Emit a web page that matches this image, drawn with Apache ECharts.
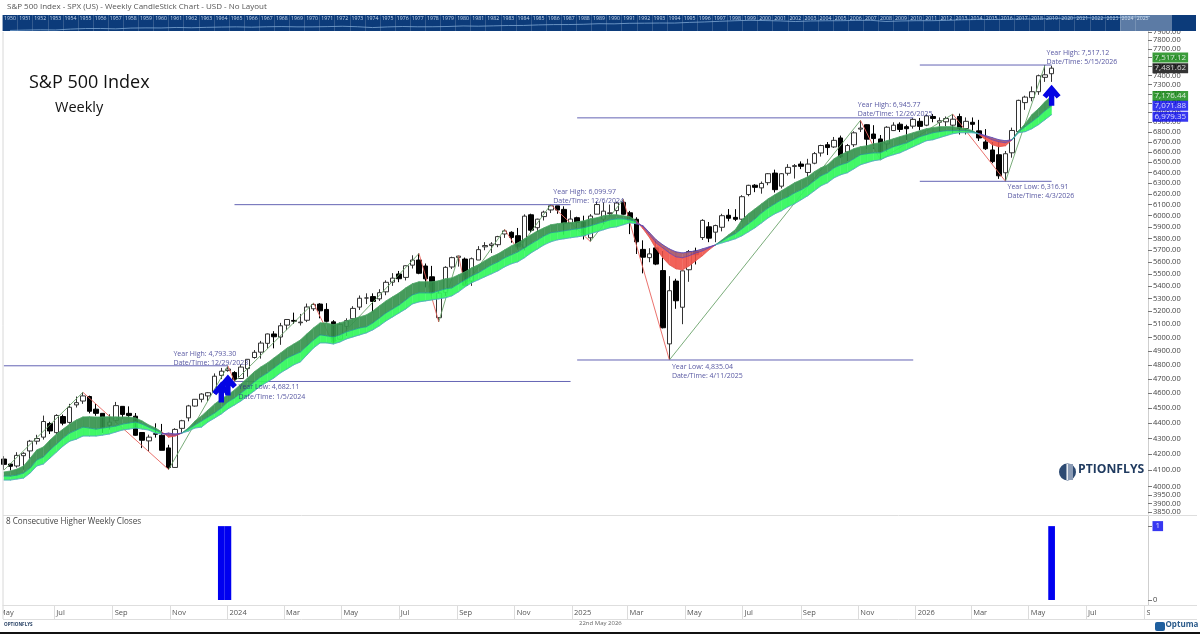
<!DOCTYPE html>
<html>
<head>
<meta charset="utf-8">
<style>html,body{margin:0;padding:0;background:#fff}#c{width:1200px;height:634px}</style>
<script src="https://cdn.jsdelivr.net/npm/echarts@6/dist/echarts.min.js"></script>
</head>
<body>
<div id="c"></div>
<script>
const weekDates = ['2023-05-05','2023-05-12','2023-05-19','2023-05-26','2023-06-02','2023-06-09','2023-06-16','2023-06-23','2023-06-30','2023-07-07','2023-07-14','2023-07-21','2023-07-28','2023-08-04','2023-08-11','2023-08-18','2023-08-25','2023-09-01','2023-09-08','2023-09-15','2023-09-22','2023-09-29','2023-10-06','2023-10-13','2023-10-20','2023-10-27','2023-11-03','2023-11-10','2023-11-17','2023-11-24','2023-12-01','2023-12-08','2023-12-15','2023-12-22','2023-12-29',
'2024-01-05','2024-01-12','2024-01-19','2024-01-26','2024-02-02','2024-02-09','2024-02-16','2024-02-23','2024-03-01','2024-03-08','2024-03-15','2024-03-22','2024-03-29','2024-04-05','2024-04-12','2024-04-19','2024-04-26','2024-05-03','2024-05-10','2024-05-17','2024-05-24','2024-05-31','2024-06-07','2024-06-14','2024-06-21','2024-06-28','2024-07-05','2024-07-12','2024-07-19','2024-07-26','2024-08-02','2024-08-09','2024-08-16','2024-08-23','2024-08-30','2024-09-06','2024-09-13','2024-09-20','2024-09-27','2024-10-04','2024-10-11','2024-10-18','2024-10-25','2024-11-01','2024-11-08','2024-11-15','2024-11-22','2024-11-29','2024-12-06','2024-12-13','2024-12-20','2024-12-27',
'2025-01-03','2025-01-10','2025-01-17','2025-01-24','2025-01-31','2025-02-07','2025-02-14','2025-02-21','2025-02-28','2025-03-07','2025-03-14','2025-03-21','2025-03-28','2025-04-04','2025-04-11','2025-04-18','2025-04-25','2025-05-02','2025-05-09','2025-05-16','2025-05-23','2025-05-30','2025-06-06','2025-06-13','2025-06-20','2025-06-27','2025-07-04','2025-07-11','2025-07-18','2025-07-25','2025-08-01','2025-08-08','2025-08-15','2025-08-22','2025-08-29','2025-09-05','2025-09-12','2025-09-19','2025-09-26','2025-10-03','2025-10-10','2025-10-17','2025-10-24','2025-10-31','2025-11-07','2025-11-14','2025-11-21','2025-11-28','2025-12-05','2025-12-12','2025-12-19','2025-12-26',
'2026-01-02','2026-01-09','2026-01-16','2026-01-23','2026-01-30','2026-02-06','2026-02-13','2026-02-20','2026-02-27','2026-03-06','2026-03-13','2026-03-20','2026-03-27','2026-04-03','2026-04-10','2026-04-17','2026-04-24','2026-05-01','2026-05-08','2026-05-15','2026-05-22'];

const weekOpen = [4169,4138,4126,4190,4220,4282,4308,4397,4337,4443,4404,4521,4547,4578,4492,4464,4385,4416,4511,4464,4445,4338,4284,4330,4320,4239,4117,4365,4434,4513,4559,4582,4610,4725,4759,
4745,4703,4773,4853,4892,4957,5027,5004,5094,5130,5112,5131,5220,5257,5215,5119,4988,5084,5143,5233,5305,5316,5298,5354,5432,5499,5471,5572,5615,5565,5476,5151,5350,5557,5637,5623,5441,5615,5727,5738,5745,5838,5853,5823,5723,6008,5893,5992,6052,6089,6057,5932,
5982,5945,5805,6014,5969,6020,6046,6121,6026,5968,5705,5635,5718,5527,4953,5441,5232,5534,5690,5807,5901,5854,5897,6004,5985,5969,6193,6280,6255,6304,6395,6271,6393,6458,6482,6401,6490,6590,6672,6650,6740,6600,6672,6830,6875,6780,6730,6680,6815,6880,6855,6860,
6910,6870,6960,6900,6905,6870,6960,6836,6900,6812,6700,6620,6573,6398,6592,6804,7106,7159,7223,7380,7420];
const weekHigh = [4187,4143,4212,4212,4290,4323,4449,4408,4458,4456,4528,4578,4607,4584,4528,4464,4458,4541,4512,4511,4466,4339,4324,4398,4394,4259,4366,4421,4521,4560,4600,4609,4739,4778,4793.30,
4755,4803,4842,4907,4975,5030,5048,5111,5138,5190,5180,5261,5265,5264,5264,5132,5114,5146,5240,5325,5342,5342,5375,5447,5506,5524,5570,5655,5670,5586,5566,5360,5563,5643,5651,5636,5636,5733,5767,5767,5822,5878,5862,5891,6012,6018,5973,6045,6099.97,6089,6085,6049,
5991,6000,6014,6128,6120,6101,6127,6147,6043,5986,5783,5715,5777,5691,5481,5460,5528,5700,5720,5969,5944,5920,6017,6060,6059,6187,6284,6290,6315,6395,6428,6395,6481,6482,6508,6533,6600,6672,6699,6750,6764,6680,6808,6920,6880,6870,6770,6860,6900,6900,6875,6945.77,
6945,6980,6985,6950,6960,6985,6990,6950,6950,6925,6830,6700,6700,6610,6845,7137,7180,7280,7410,7517.12,7510];
const weekLow = [4103,4099,4116,4103,4166,4261,4292,4328,4328,4385,4395,4503,4528,4464,4448,4335,4357,4403,4430,4440,4317,4238,4217,4305,4224,4104,4117,4329,4411,4509,4538,4547,4597,4699,4751,
4682.11,4699,4715,4845,4845,4918,4920,4946,5056,5104,5091,5117,5203,5146,5115,4953,4986,5012,5143,5211,5257,5192,5282,5327,5402,5432,5446,5544,5497,5390,5303,5119,5322,5540,5560,5402,5402,5615,5698,5674,5724,5804,5762,5702,5696,5853,5856,5957,6024,6017,5832,5932,
5869,5790,5773,6014,5923,5990,6003,6009,5837,5666,5504,5597,5572,5069,4835.04,5220,5101,5435,5578,5786,5767,5767,5861,5950,5952,5943,6177,6215,6201,6280,6212,6250,6372,6343,6433,6361,6480,6555,6570,6640,6540,6510,6650,6800,6630,6630,6521,6600,6810,6800,6720,6835,
6820,6860,6900,6800,6860,6790,6775,6775,6800,6710,6620,6490,6340,6316.91,6544,6790,7030,7120,7190,7330,7330];
const weekClose = [4136,4124,4192,4205,4282,4299,4410,4348,4450,4399,4505,4536,4582,4478,4464,4370,4406,4516,4457,4450,4320,4288,4308,4327,4224,4117,4358,4415,4514,4559,4595,4604,4719,4755,4770,
4697,4784,4840,4891,4959,5027,5006,5089,5137,5124,5117,5234,5254,5204,5123,4967,5100,5128,5223,5303,5305,5278,5347,5431,5465,5460,5567,5615,5505,5459,5346,5344,5554,5635,5648,5408,5626,5703,5738,5751,5815,5865,5808,5728,5996,5871,5969,6032,6090,6051,5931,5970,
5942,5827,5997,6101,6041,6026,6115,6013,5955,5770,5639,5667,5581,5074,5363,5283,5525,5687,5660,5958,5802,5912,6000,5977,5968,6173,6279,6260,6297,6389,6238,6389,6450,6467,6460,6482,6584,6664,6644,6716,6553,6664,6792,6840,6728,6734,6603,6849,6870,6827,6834,6930,
6858,6966,6940,6916,6939,6932,6836,6910,6879,6740,6632,6506,6369,6583,6816,7130,7165,7223,7398,7408,7481.62];

const emaFast = [4089,4095,4107,4126,4175,4226,4245,4289,4328,4360,4393,4420,4440,4441,4439,4440,4441,4440,4439,4440,4433,4413,4387,4367,4341,4308,4315,4334,4367,4413,4447,4487,4527,4561,4589,4623,4665,4707,4750,4785,4814,4850,4886,4923,4952,4982,5028,5073,5111,5111,5096,5111,5126,5142,5157,5172,5203,5243,5282,5314,5346,5386,5419,5435,5435,5435,5443,5459,5467,5492,5517,5550,5575,5609,5642,5667,5701,5735,5761,5796,5831,5866,5893,5919,5928,5936,5936,5945,5954,5972,5981,5999,6008,6008,5999,5990,5954,5884,5805,5709,5634,5575,5542,5533,5566,5609,5651,5701,5744,5787,5831,5875,5963,6017,6062,6108,6154,6191,6228,6265,6303,6331,6360,6408,6446,6475,6534,6573,6602,6632,6652,6662,6682,6692,6712,6732,6753,6773,6793,6814,6834,6845,6855,6855,6855,6845,6834,6814,6773,6722,6672,6652,6662,6722,6814,6886,6979,7041,7116,7176.44];
const emaMid = [4064,4064,4070,4083,4113,4163,4182,4226,4263,4302,4334,4354,4373,4367,4360,4367,4373,4380,4393,4400,4407,4393,4373,4354,4334,4321,4321,4334,4360,4387,4413,4440,4467,4500,4541,4568,4602,4637,4679,4714,4743,4778,4814,4850,4872,4893,4938,4982,5020,5013,5005,5020,5043,5058,5073,5081,5111,5149,5188,5219,5250,5290,5330,5346,5346,5346,5362,5378,5386,5419,5451,5484,5509,5542,5575,5600,5634,5659,5684,5718,5753,5787,5822,5849,5857,5866,5875,5884,5893,5910,5928,5945,5963,5972,5972,5963,5945,5901,5831,5761,5718,5675,5642,5634,5651,5675,5692,5718,5744,5778,5813,5840,5884,5928,5972,6026,6071,6108,6145,6172,6209,6237,6274,6322,6369,6398,6446,6475,6495,6534,6573,6583,6592,6592,6622,6652,6672,6692,6722,6753,6773,6793,6804,6814,6814,6814,6814,6804,6783,6753,6722,6702,6692,6722,6804,6855,6906,6958,7021,7071.88];
const emaSlow = [4040,4040,4046,4052,4083,4126,4138,4175,4213,4251,4282,4295,4315,4315,4315,4321,4328,4341,4354,4360,4367,4360,4354,4334,4328,4334,4328,4334,4347,4367,4373,4407,4433,4460,4494,4520,4548,4582,4616,4651,4679,4707,4743,4771,4800,4821,4872,4923,4960,4960,4952,4967,4990,5005,5020,5035,5058,5089,5126,5157,5188,5219,5258,5274,5282,5290,5298,5306,5322,5354,5394,5427,5451,5476,5500,5525,5558,5583,5600,5634,5675,5709,5744,5770,5787,5796,5805,5813,5822,5840,5857,5875,5893,5901,5919,5936,5928,5910,5849,5787,5744,5709,5684,5675,5684,5692,5709,5726,5744,5761,5778,5796,5822,5857,5893,5936,5981,6017,6044,6080,6108,6145,6182,6228,6274,6303,6350,6379,6398,6436,6475,6495,6514,6524,6553,6573,6592,6622,6652,6682,6712,6722,6743,6763,6783,6793,6793,6793,6783,6763,6743,6722,6712,6722,6793,6804,6834,6875,6927,6979.35];

const pivotWeek = [0,12,25,34,35,47,50,63,66,69,70,76,78,83,89,94,101,130,133,144,152,158];
const pivotPrice = [4100,4607,4104,4793,4682,5265,4953,5670,5119,5651,5402,5878,5702,6100,5773,6147,4835,6920,6521,6985,6317,7517];

const extremeNames = ['Year High','Year Low','Year High','Year Low','Year High','Year Low','Year High'];
const extremePrices = [4793.30,4682.11,6099.97,4835.04,6945.77,6316.91,7517.12];
const extremeDates = ['12/29/2023','1/5/2024','12/6/2024','4/11/2025','12/26/2025','4/3/2026','5/15/2026'];
const extremeWeeks = ['2023-12-29','2024-01-05','2024-12-06','2025-04-11','2025-12-26','2026-04-03','2026-05-15'];
const extremeFrom = ['2023-05-05','2024-01-05','2024-01-05','2025-01-03','2025-01-03','2026-01-02','2026-01-02'];
const extremeTo = ['2023-12-29','2024-12-27','2024-12-27','2025-12-26','2025-12-26','2026-05-22','2026-05-22'];
const extremeOffsetX = [-55,3.5,2,2,-56,1.5,1];
const extremeOffsetY = [-7.5,10.5,-8,11.5,-8.5,10.5,-7.5];

const signalWeeks = ['2023-12-22','2023-12-29','2026-05-22'];
const signalValues = [1,1,1];
const arrowPrices = [4609,4657,7186];

const priceTicks = [3850,3900,3950,4000,4100,4200,4300,4400,4500,4600,4700,4800,4900,5000,5100,5200,5300,5400,5500,5600,5700,5800,5900,6000,6100,6200,6300,6400,6500,6600,6700,6800,6900,7000,7100,7200,7300,7400,7500,7600,7700,7800,7900];
const tagValues = [7517.12,7481.62,7176.44,7071.88,6979.35];
const tagColours = ['#0a840a','#000000','#0a840a','#0505ee','#0505ee'];
const tagOffsets = [-7.5,0,0,0,2];

const monthDates = ['2023-07-01','2023-09-01','2023-11-01','2024-01-01','2024-03-01','2024-05-01','2024-07-01','2024-09-01','2024-11-01','2025-01-01','2025-03-01','2025-05-01','2025-07-01','2025-09-01','2025-11-01','2026-01-01','2026-03-01','2026-05-01','2026-07-01','2026-09-01'];
const monthLabels = ['Jul','Sep','Nov','2024','Mar','May','Jul','Sep','Nov','2025','Mar','May','Jul','Sep','Nov','2026','Mar','May','Jul','Sep'];

const stripYears = ['1950','1951','1952','1953','1954','1955','1956','1957','1958','1959','1960','1961','1962','1963','1964','1965','1966','1967','1968','1969','1970','1971','1972','1973','1974','1975','1976','1977','1978','1979','1980','1981','1982','1983','1984','1985','1986','1987','1988','1989','1990','1991','1992','1993','1994','1995','1996','1997','1998','1999','2000','2001','2002','2003','2004','2005','2006','2007','2008','2009','2010','2011','2012','2013','2014','2015','2016','2017','2018','2019','2020','2021','2022','2023','2024','2025','2026','',''];
const stripCloses = [20.41,23.77,26.57,24.81,35.98,45.48,46.67,39.99,55.21,59.89,58.11,71.55,63.10,75.02,84.75,92.43,80.33,96.47,103.86,92.06,92.15,102.09,118.05,97.55,68.56,90.19,107.46,95.10,96.11,107.94,135.76,122.55,140.64,164.93,167.24,211.28,242.17,247.08,277.72,353.40,330.22,417.09,435.71,466.45,459.27,615.93,740.74,970.43,1229.23,1469.25,1320.28,1148.08,879.82,1111.92,1211.92,1248.29,1418.30,1468.36,903.25,1115.10,1257.64,1257.60,1426.19,1848.36,2058.90,2043.94,2238.83,2673.61,2506.85,3230.78,3756.07,4766.18,3839.50,4769.83,5881.63,6845.50,7481.62];

[weekOpen,weekHigh,weekLow,weekClose,emaFast,emaMid,emaSlow].forEach((a,k)=>{
  if(a.length!==weekDates.length) throw new Error('array '+k+' has '+a.length+' vs '+weekDates.length);
});

const DAY = 864e5;
const FONT = '"Open Sans"';
const origin = Date.UTC(2024,0,1);
const axisMin = origin - 238.5*DAY;
const axisMax = origin + 977.8*DAY;
const barTime = d => Date.parse(d+'T00:00:00Z') + 3.4*DAY;
const dayTime = d => Date.parse(d+'T00:00:00Z');
const weekTimes = weekDates.map(barTime);
const monthTimes = monthDates.map(dayTime);
const fmt = v => v.toLocaleString('en-US',{minimumFractionDigits:2,maximumFractionDigits:2});

const upLeg = [], downLeg = [];
for(let k=0;k<pivotWeek.length-1;k++){
  const target = pivotPrice[k+1]>pivotPrice[k] ? upLeg : downLeg;
  target.push([weekTimes[pivotWeek[k]],pivotPrice[k]],[weekTimes[pivotWeek[k+1]],pivotPrice[k+1]],[weekTimes[pivotWeek[k+1]],'-']);
}

function renderBand(params,api){
  const i = params.dataIndex;
  if(i>=weekTimes.length-1) return null;
  const c = (k,a)=>api.coord([weekTimes[k],a[k]]);
  const F0=c(i,emaFast),F1=c(i+1,emaFast),M0=c(i,emaMid),M1=c(i+1,emaMid),S0=c(i,emaSlow),S1=c(i+1,emaSlow);
  const up = emaFast[i]+emaFast[i+1] >= emaMid[i]+emaMid[i+1];
  const poly = (pts,fill)=>({type:'polygon',shape:{points:pts},style:{fill:fill,opacity:0.93,stroke:fill,lineWidth:0.3}});
  const line = (a,b,col,w)=>({type:'line',shape:{x1:a[0],y1:a[1],x2:b[0],y2:b[1]},style:{stroke:col,lineWidth:w,lineCap:'round'}});
  return {type:'group',children:[
    poly([F0,F1,M1,M0], up?'#38934f':'#f0564e'),
    poly([M0,M1,S1,S0], up?'#33f85c':'#a8586a'),
    line(F0,F1, up?'#4aa664':'#e0504a',0.7),
    line(M0,M1, up?'#2a8a98':'#7040b0',0.8),
    line(S0,S1, up?'#559fca':'#5048c0',0.8)
  ]};
}

const spanSeries = extremePrices.map((p,k)=>({
  type:'line',xAxisIndex:0,yAxisIndex:0,symbol:'none',silent:true,z:3,clip:false,
  lineStyle:{color:'#6464b4',width:1},
  data:[[barTime(extremeFrom[k]),p],[barTime(extremeTo[k]),p]]
}));

const option = {
  animation:false,
  backgroundColor:'#ffffff',
  textStyle:{fontFamily:FONT},
  grid:[
    {left:3,top:31.4,width:1145,height:482.6},
    {left:3,top:516,width:1145,height:89},
    {left:2.5,top:15,width:1193,height:16,show:true,backgroundColor:'#0c3b7a',borderWidth:0}
  ],
  xAxis:[
    {type:'value',gridIndex:0,min:axisMin,max:axisMax,show:false},
    {type:'value',gridIndex:1,min:axisMin,max:axisMax,
      axisLine:{show:true,onZero:false,lineStyle:{color:'#dcdcdc'}},
      axisTick:{show:true,length:14,lineStyle:{color:'#dcdcdc'},customValues:monthTimes},
      splitLine:{show:false},
      axisLabel:{customValues:monthTimes,align:'left',margin:4,padding:[0,0,0,2],fontSize:7.5,color:'#555',fontFamily:FONT,hideOverlap:false,
        formatter:v=>monthLabels[monthTimes.indexOf(+v)]||''}},
    {type:'category',gridIndex:2,position:'top',data:stripYears,boundaryGap:true,
      axisLine:{show:false},axisTick:{show:false},
      splitLine:{show:true,interval:0,lineStyle:{color:'rgba(255,255,255,0.28)',width:0.6}},
      axisLabel:{inside:true,interval:0,fontSize:5.2,color:'#c9d8ea',margin:1,fontFamily:FONT}}
  ],
  yAxis:[
    {type:'log',gridIndex:0,position:'right',min:3840,max:7905,logBase:10,
      axisLine:{show:true,lineStyle:{color:'#cfcfcf'}},
      axisTick:{show:true,length:4,lineStyle:{color:'#777'},customValues:priceTicks},
      splitLine:{show:false},minorTick:{show:false},
      axisLabel:{customValues:priceTicks,fontSize:7.5,color:'#444',margin:5,fontFamily:FONT,hideOverlap:false,showMinLabel:true,showMaxLabel:true,
        formatter:v=>Number(v).toFixed(2)}},
    {type:'value',gridIndex:1,position:'right',min:-0.068,max:1.137,
      axisLine:{show:true,lineStyle:{color:'#cfcfcf'}},
      axisTick:{show:true,length:4,lineStyle:{color:'#777'},customValues:[0,1]},
      splitLine:{show:false},
      axisLabel:{customValues:[0],fontSize:7.5,color:'#444',margin:5,fontFamily:FONT}},
    {type:'log',gridIndex:2,min:16,max:14000,show:false}
  ],
  series:[
    {type:'candlestick',xAxisIndex:0,yAxisIndex:0,z:2,barWidth:5,
      encode:{x:0,y:[1,2,3,4]},
      itemStyle:{color:'#ffffff',color0:'#000000',borderColor:'#333333',borderColor0:'#000000',borderWidth:1},
      data:weekTimes.map((t,i)=>[t,weekOpen[i],weekClose[i],weekLow[i],weekHigh[i]])},
    {type:'line',xAxisIndex:0,yAxisIndex:0,symbol:'none',z:3,silent:true,connectNulls:false,
      lineStyle:{color:'#6aa36a',width:0.9},data:upLeg},
    {type:'line',xAxisIndex:0,yAxisIndex:0,symbol:'none',z:3,silent:true,connectNulls:false,
      lineStyle:{color:'#e8625c',width:0.9},data:downLeg},
    {type:'custom',xAxisIndex:0,yAxisIndex:0,z:4,silent:true,renderItem:renderBand,
      encode:{x:0,y:1},data:weekTimes.map((t,i)=>[t,emaMid[i]])},
    ...spanSeries,
    {type:'scatter',xAxisIndex:0,yAxisIndex:0,z:8,silent:true,symbolSize:1,clip:false,
      itemStyle:{color:'rgba(0,0,0,0)'},
      data:extremePrices.map((p,k)=>({
        value:[barTime(extremeWeeks[k]),p],
        label:{show:true,position:'right',distance:0,offset:[extremeOffsetX[k],extremeOffsetY[k]],align:'left',
          formatter:extremeNames[k]+': '+fmt(p)+'\nDate/Time: '+extremeDates[k],
          fontFamily:FONT,fontSize:7,lineHeight:9.2,color:'#2c2c8a'}
      }))},
    {type:'scatter',xAxisIndex:0,yAxisIndex:0,z:9,silent:true,symbol:'path://M50 0 L100 50 L78 66 L65 53 L65 100 L35 100 L35 53 L22 66 L0 50 Z',
      symbolSize:[18,21],symbolKeepAspect:false,itemStyle:{color:'#0404e4',opacity:1},
      data:signalWeeks.map((d,k)=>[barTime(d),arrowPrices[k]])},
    {type:'scatter',xAxisIndex:0,yAxisIndex:0,z:10,silent:true,symbolSize:1,clip:false,
      itemStyle:{color:'rgba(0,0,0,0)'},
      data:tagValues.map((v,k)=>({value:[axisMax,v],
        label:{show:true,position:'right',distance:4,offset:[0,tagOffsets[k]],formatter:fmt(v),
          backgroundColor:tagColours[k],color:'#ffffff',fontFamily:FONT,fontSize:8,padding:[1,2,0,2],lineHeight:9}}))},
    {type:'bar',xAxisIndex:1,yAxisIndex:1,barWidth:6.7,
      itemStyle:{color:'#0000f0',borderWidth:0},
      data:signalWeeks.map((d,k)=>[barTime(d),signalValues[k]])},
    {type:'scatter',xAxisIndex:1,yAxisIndex:1,symbolSize:1,clip:false,silent:true,
      itemStyle:{color:'rgba(0,0,0,0)'},
      data:[{value:[axisMax,1],label:{show:true,position:'right',distance:4,formatter:'1',backgroundColor:'#0505ee',color:'#fff',fontSize:8,fontFamily:FONT,padding:[1,3,0,3],lineHeight:9}}]},
    {type:'line',xAxisIndex:2,yAxisIndex:2,symbol:'none',silent:true,lineStyle:{color:'#7fa8d4',width:0.8},data:stripCloses}
  ],
  graphic:[
    {type:'text',x:7,y:3,z:20,style:{text:'S&P 500 Index - SPX (US) - Weekly CandleStick Chart - USD - No Layout',font:'8px "Open Sans"',fill:'#555'}},
    {type:'text',x:29,y:74,z:20,style:{text:'S&P 500 Index',font:'18px "Open Sans"',fill:'#111'}},
    {type:'text',x:55,y:100,z:20,style:{text:'Weekly',font:'14.5px "Open Sans"',fill:'#111'}},
    {type:'text',x:6,y:518,z:20,style:{text:'8 Consecutive Higher Weekly Closes',font:'8.1px "Open Sans"',fill:'#444'}},
    {type:'text',x:-1,y:609,z:20,style:{text:'May',font:'7.5px "Open Sans"',fill:'#555'}},
    {type:'rect',z:21,shape:{x:0,y:606,width:3,height:13},style:{fill:'#fff'}},
    {type:'rect',z:21,shape:{x:1150,y:606,width:47,height:13},style:{fill:'#fff'}},
    {type:'rect',z:21,shape:{x:1150,y:15,width:46,height:16},style:{fill:'#0c3b7a'}},
    {type:'rect',z:22,shape:{x:1120,y:15,width:52,height:16},style:{fill:'rgba(255,255,255,0.33)'}},
    {type:'line',z:22,shape:{x1:3,y1:32,x2:3,y2:619},style:{stroke:'#d8d8d8',lineWidth:1}},
    {type:'line',z:22,shape:{x1:3,y1:515.5,x2:1197,y2:515.5},style:{stroke:'#dedede',lineWidth:1}},
    {type:'line',z:22,shape:{x1:3,y1:605.5,x2:1197,y2:605.5},style:{stroke:'#dedede',lineWidth:1}},
    {type:'line',z:22,shape:{x1:3,y1:619.5,x2:1197,y2:619.5},style:{stroke:'#dedede',lineWidth:1}},
    {type:'rect',z:22,shape:{x:0,y:632,width:1200,height:2},style:{fill:'#111'}},
    {type:'circle',z:20,shape:{cx:1067.5,cy:472,r:8.5},style:{fill:'#2d4a72'}},
    {type:'rect',z:21,shape:{x:1066.5,y:464,width:1.4,height:16},style:{fill:'#ffffff'}},
    {type:'rect',z:21,shape:{x:1068,y:464,width:5,height:16},style:{fill:'#8a9bb5'}},
    {type:'text',x:1078,y:464,z:20,style:{text:'PTIONFLYS',font:'bold 12.2px "Open Sans"',fill:'#1f3a5f'}},
    {type:'text',x:579,y:620,z:20,style:{text:'22nd May 2026',font:'6px "Open Sans"',fill:'#666'}},
    {type:'text',x:4,y:622,z:20,style:{text:'OPTIONFLYS',font:'bold 4.6px "Open Sans"',fill:'#1f3a5f'}},
    {type:'rect',z:20,shape:{x:1155,y:622,width:10,height:9,r:2},style:{fill:'#1f5f9f'}},
    {type:'text',x:1165.5,y:621,z:20,style:{text:'Optuma',font:'bold 8px "Open Sans"',fill:'#2a5a8a'}}
  ]
};
const chart = echarts.init(document.getElementById('c'),null,{renderer:'canvas'});
chart.setOption(option);
</script>
</body>
</html>
